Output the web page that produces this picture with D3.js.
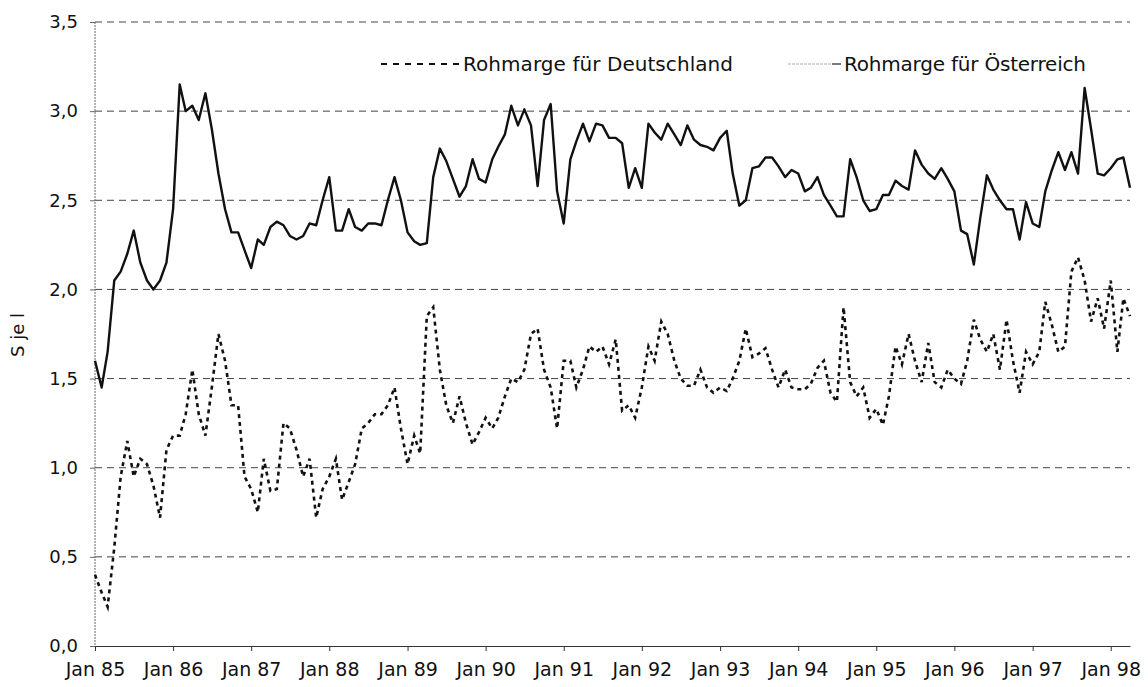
<!DOCTYPE html>
<html>
<head>
<meta charset="utf-8">
<script src="https://cdn.jsdelivr.net/npm/d3@7"></script>
<style>
  body { margin: 0; background: #fff; }
  svg text { font-family: "DejaVu Sans", sans-serif; fill: #111; }
</style>
</head>
<body>
<script>
'use strict';

// monthly values, Jan 85 .. Apr 98
const austria = [
  1.60, 1.45, 1.65, 2.05, 2.10, 2.20, 2.33, 2.15, 2.05, 2.00, 2.05, 2.15,
  2.45, 3.15, 3.00, 3.03, 2.95, 3.10, 2.90, 2.65, 2.45, 2.32, 2.32, 2.22,
  2.12, 2.28, 2.25, 2.35, 2.38, 2.36, 2.30, 2.28, 2.30, 2.37, 2.36, 2.50,
  2.63, 2.33, 2.33, 2.45, 2.35, 2.33, 2.37, 2.37, 2.36, 2.50, 2.63, 2.50,
  2.32, 2.27, 2.25, 2.26, 2.63, 2.79, 2.72, 2.62, 2.52, 2.58, 2.73, 2.62,
  2.60, 2.73, 2.80, 2.87, 3.03, 2.92, 3.01, 2.92, 2.58, 2.95, 3.04, 2.55,
  2.37, 2.73, 2.83, 2.93, 2.83, 2.93, 2.92, 2.85, 2.85, 2.82, 2.57, 2.68,
  2.57, 2.93, 2.88, 2.84, 2.93, 2.87, 2.81, 2.92, 2.84, 2.81, 2.80, 2.78,
  2.85, 2.89, 2.65, 2.47, 2.50, 2.68, 2.69, 2.74, 2.74, 2.69, 2.63, 2.67,
  2.65, 2.55, 2.57, 2.63, 2.53, 2.47, 2.41, 2.41, 2.73, 2.63, 2.50, 2.44,
  2.45, 2.53, 2.53, 2.61, 2.58, 2.56, 2.78, 2.70, 2.65, 2.62, 2.68, 2.62,
  2.55, 2.33, 2.31, 2.14, 2.40, 2.64, 2.56, 2.50, 2.45, 2.45, 2.28, 2.49,
  2.37, 2.35, 2.55, 2.67, 2.77, 2.67, 2.77, 2.65, 3.13, 2.90, 2.65, 2.64,
  2.68, 2.73, 2.74, 2.57
];

const germany = [
  0.40, 0.30, 0.22, 0.55, 0.95, 1.15, 0.95, 1.05, 1.02, 0.90, 0.72, 1.10,
  1.18, 1.18, 1.30, 1.55, 1.30, 1.18, 1.45, 1.75, 1.60, 1.35, 1.35, 0.95,
  0.88, 0.75, 1.05, 0.87, 0.88, 1.25, 1.22, 1.10, 0.95, 1.05, 0.72, 0.88,
  0.95, 1.05, 0.82, 0.92, 1.02, 1.22, 1.25, 1.30, 1.30, 1.35, 1.45, 1.22,
  1.02, 1.18, 1.08, 1.85, 1.90, 1.55, 1.35, 1.25, 1.40, 1.25, 1.13, 1.20,
  1.28, 1.22, 1.28, 1.40, 1.50, 1.48, 1.55, 1.75, 1.78, 1.55, 1.45, 1.22,
  1.60, 1.60, 1.45, 1.55, 1.68, 1.65, 1.68, 1.58, 1.72, 1.32, 1.35, 1.28,
  1.45, 1.68, 1.60, 1.82, 1.75, 1.60, 1.50, 1.46, 1.46, 1.55, 1.45, 1.42,
  1.45, 1.43, 1.50, 1.60, 1.78, 1.62, 1.64, 1.67, 1.55, 1.45, 1.55, 1.45,
  1.44, 1.44, 1.47, 1.56, 1.60, 1.42, 1.37, 1.90, 1.48, 1.40, 1.45, 1.28,
  1.33, 1.24, 1.40, 1.68, 1.58, 1.75, 1.60, 1.48, 1.70, 1.48, 1.45, 1.55,
  1.50, 1.47, 1.60, 1.83, 1.72, 1.65, 1.75, 1.55, 1.83, 1.60, 1.42, 1.65,
  1.58, 1.65, 1.93, 1.80, 1.65, 1.68, 2.10, 2.18, 2.05, 1.82, 1.95, 1.78,
  2.05, 1.65, 1.95, 1.85
];

const yTicks = [0, 0.5, 1, 1.5, 2, 2.5, 3, 3.5];
const xTickYears = [1985, 1986, 1987, 1988, 1989, 1990, 1991, 1992, 1993, 1994, 1995, 1996, 1997, 1998];
const legendLabels = ['Rohmarge für Deutschland', 'Rohmarge für Österreich'];
const yTitle = 'S je l';

const W = 1148, H = 687;
const m = {left: 95, right: 1130, top: 22, bottom: 646};
const font = '"DejaVu Sans", sans-serif';

const start = new Date(1985, 0, 1);
const monthDate = (i) => d3.timeMonth.offset(start, i);

const svg = d3.select('body').append('svg')
  .attr('width', W)
  .attr('height', H);

const x = d3.scaleTime()
  .domain([start, monthDate(austria.length - 1)])
  .range([m.left, m.right]);

const y = d3.scaleLinear()
  .domain([0, 3.5])
  .range([m.bottom, m.top]);

const fmt = (v) => d3.format('.1f')(v).replace('.', ',');

// horizontal dashed grid lines
svg.append('g')
  .selectAll('line')
  .data(yTicks.filter((d) => d > 0))
  .enter()
  .append('line')
    .attr('x1', m.left)
    .attr('x2', m.right)
    .attr('y1', (d) => y(d))
    .attr('y2', (d) => y(d))
    .attr('stroke', '#444')
    .attr('stroke-width', 1)
    .attr('stroke-dasharray', '7,5');

// y axis: thin dotted vertical line, small ticks, labels
svg.append('line')
  .attr('x1', m.left).attr('x2', m.left)
  .attr('y1', m.top).attr('y2', m.bottom)
  .attr('stroke', '#666')
  .attr('stroke-width', 1)
  .attr('stroke-dasharray', '2,1');

let yAxis = d3.axisLeft(y)
  .tickValues(yTicks)
  .tickSize(5)
  .tickPadding(12)
  .tickFormat(fmt);
let yg = svg.append('g')
  .attr('transform', 'translate(' + m.left + ',0)')
  .call(yAxis);
yg.select('.domain').remove();
yg.selectAll('line').attr('stroke', '#666');
yg.selectAll('text')
  .attr('font-size', 18)
  .attr('font-family', font)
  .attr('fill', '#111');

// x axis at bottom
let xAxis = d3.axisBottom(x)
  .tickValues(xTickYears.map((yr) => new Date(yr, 0, 1)))
  .tickSize(5)
  .tickSizeOuter(0)
  .tickPadding(12)
  .tickFormat((d) => 'Jan ' + d3.timeFormat('%y')(d));
let xg = svg.append('g')
  .attr('transform', 'translate(0,' + m.bottom + ')')
  .call(xAxis);
xg.select('.domain').attr('stroke', '#333').attr('stroke-width', 1.2);
xg.selectAll('line').attr('stroke', '#333');
xg.selectAll('text')
  .attr('font-size', 19)
  .attr('font-family', font)
  .attr('fill', '#111');

// y title
svg.append('text')
  .attr('transform', 'translate(24, 335)rotate(-90)')
  .attr('text-anchor', 'middle')
  .attr('font-size', 18)
  .text(yTitle);

// lines
const line = d3.line()
  .x((d, i) => x(monthDate(i)))
  .y((d) => y(d));

svg.append('path')
  .datum(germany)
  .attr('d', line)
  .attr('fill', 'none')
  .attr('stroke', '#111')
  .attr('stroke-width', 2.6)
  .attr('stroke-dasharray', '4,4');

svg.append('path')
  .datum(austria)
  .attr('d', line)
  .attr('fill', 'none')
  .attr('stroke', '#111')
  .attr('stroke-width', 2.4)
  .attr('stroke-linejoin', 'round');

// legend
const lg = svg.append('g');
lg.append('line')
  .attr('x1', 381).attr('x2', 460)
  .attr('y1', 64).attr('y2', 64)
  .attr('stroke', '#111')
  .attr('stroke-width', 2.2)
  .attr('stroke-dasharray', '6,6');
lg.append('text')
  .attr('x', 463).attr('y', 71)
  .attr('font-size', 20)
  .attr('textLength', 270)
  .text(legendLabels[0]);

lg.append('line')
  .attr('x1', 788).attr('x2', 832)
  .attr('y1', 64).attr('y2', 64)
  .attr('stroke', '#aaa')
  .attr('stroke-width', 1)
  .attr('stroke-dasharray', '3,1');
lg.append('line')
  .attr('x1', 832).attr('x2', 841)
  .attr('y1', 64).attr('y2', 64)
  .attr('stroke', '#222')
  .attr('stroke-width', 1.2);
lg.append('text')
  .attr('x', 844).attr('y', 71)
  .attr('font-size', 20)
  .attr('textLength', 242)
  .text(legendLabels[1]);
</script>
</body>
</html>
